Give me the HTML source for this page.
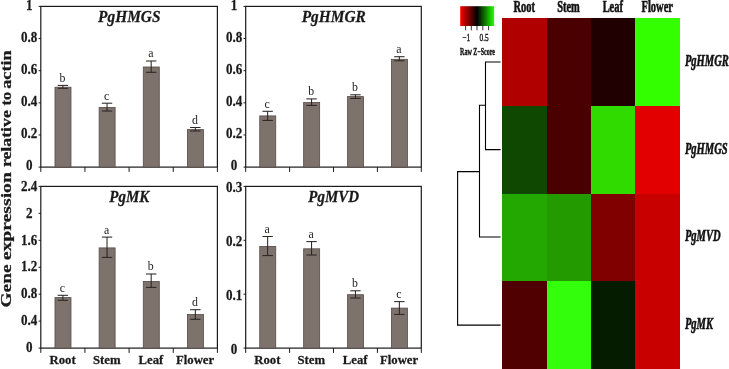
<!DOCTYPE html>
<html><head><meta charset="utf-8"><title>Gene expression</title>
<style>html,body{margin:0;padding:0;background:#fff;overflow:hidden;}svg{display:block;filter:blur(0.35px);}text{font-family:"Liberation Serif",serif;}</style></head>
<body>
<svg width="729" height="369" viewBox="0 0 729 369" font-family="'Liberation Serif', serif">
<rect width="729" height="369" fill="#fff"/>
<g stroke="#1a1a1a" stroke-width="1.2" fill="none">
<rect x="40.8" y="6.4" width="176.60000000000002" height="160.7"/>
</g>
<rect x="54.98" y="87.20" width="16.0" height="79.90" fill="#7e726d" stroke="#554b47" stroke-width="0.8"/>
<g stroke="#2b2523" stroke-width="1.05" fill="none">
<line x1="62.88" y1="85.40" x2="62.88" y2="88.30"/>
<line x1="57.67" y1="85.40" x2="68.08" y2="85.40"/>
<line x1="57.67" y1="88.30" x2="68.08" y2="88.30"/>
</g>
<text transform="translate(62.48,81.80) scale(0.95,1)" font-size="12.5" text-anchor="middle" fill="#222">b</text>
<rect x="99.12" y="107.40" width="16.0" height="59.70" fill="#7e726d" stroke="#554b47" stroke-width="0.8"/>
<g stroke="#2b2523" stroke-width="1.05" fill="none">
<line x1="107.03" y1="103.20" x2="107.03" y2="111.00"/>
<line x1="101.83" y1="103.20" x2="112.23" y2="103.20"/>
<line x1="101.83" y1="111.00" x2="112.23" y2="111.00"/>
</g>
<text transform="translate(106.62,99.60) scale(0.95,1)" font-size="12.5" text-anchor="middle" fill="#222">c</text>
<rect x="143.28" y="67.00" width="16.0" height="100.10" fill="#7e726d" stroke="#554b47" stroke-width="0.8"/>
<g stroke="#2b2523" stroke-width="1.05" fill="none">
<line x1="151.18" y1="61.00" x2="151.18" y2="72.30"/>
<line x1="145.98" y1="61.00" x2="156.38" y2="61.00"/>
<line x1="145.98" y1="72.30" x2="156.38" y2="72.30"/>
</g>
<text transform="translate(150.78,57.40) scale(0.95,1)" font-size="12.5" text-anchor="middle" fill="#222">a</text>
<rect x="187.43" y="129.60" width="16.0" height="37.50" fill="#7e726d" stroke="#554b47" stroke-width="0.8"/>
<g stroke="#2b2523" stroke-width="1.05" fill="none">
<line x1="195.33" y1="127.50" x2="195.33" y2="131.00"/>
<line x1="190.13" y1="127.50" x2="200.53" y2="127.50"/>
<line x1="190.13" y1="131.00" x2="200.53" y2="131.00"/>
</g>
<text transform="translate(194.93,123.90) scale(0.95,1)" font-size="12.5" text-anchor="middle" fill="#222">d</text>
<g stroke="#1a1a1a" stroke-width="1" fill="none">
<line x1="38.599999999999994" y1="6.4" x2="40.8" y2="6.4"/>
<line x1="38.599999999999994" y1="38.54" x2="40.8" y2="38.54"/>
<line x1="38.599999999999994" y1="70.68" x2="40.8" y2="70.68"/>
<line x1="38.599999999999994" y1="102.82000000000001" x2="40.8" y2="102.82000000000001"/>
<line x1="38.599999999999994" y1="134.96" x2="40.8" y2="134.96"/>
<line x1="38.599999999999994" y1="167.1" x2="40.8" y2="167.1"/>
<line x1="40.80" y1="167.1" x2="40.80" y2="171.9"/>
<line x1="84.95" y1="167.1" x2="84.95" y2="171.9"/>
<line x1="129.10" y1="167.1" x2="129.10" y2="171.9"/>
<line x1="173.25" y1="167.1" x2="173.25" y2="171.9"/>
<line x1="217.40" y1="167.1" x2="217.40" y2="171.9"/>
</g>
<text transform="translate(29.20,9.50) scale(0.9,1)" font-size="14.5" font-weight="bold" stroke="#1a1a1a" stroke-width="0.25" vector-effect="non-scaling-stroke" text-anchor="middle" fill="#1a1a1a">1</text>
<text transform="translate(29.20,41.64) scale(0.9,1)" font-size="14.5" font-weight="bold" stroke="#1a1a1a" stroke-width="0.25" vector-effect="non-scaling-stroke" text-anchor="middle" fill="#1a1a1a">0.8</text>
<text transform="translate(29.20,73.78) scale(0.9,1)" font-size="14.5" font-weight="bold" stroke="#1a1a1a" stroke-width="0.25" vector-effect="non-scaling-stroke" text-anchor="middle" fill="#1a1a1a">0.6</text>
<text transform="translate(29.20,105.92) scale(0.9,1)" font-size="14.5" font-weight="bold" stroke="#1a1a1a" stroke-width="0.25" vector-effect="non-scaling-stroke" text-anchor="middle" fill="#1a1a1a">0.4</text>
<text transform="translate(29.20,138.06) scale(0.9,1)" font-size="14.5" font-weight="bold" stroke="#1a1a1a" stroke-width="0.25" vector-effect="non-scaling-stroke" text-anchor="middle" fill="#1a1a1a">0.2</text>
<text transform="translate(29.20,170.20) scale(0.9,1)" font-size="14.5" font-weight="bold" stroke="#1a1a1a" stroke-width="0.25" vector-effect="non-scaling-stroke" text-anchor="middle" fill="#1a1a1a">0</text>
<text transform="translate(129.30,21.60) scale(0.88,1)" font-size="17.5" font-weight="bold" stroke="#1a1a1a" stroke-width="0.25" vector-effect="non-scaling-stroke" font-style="italic" text-anchor="middle" fill="#1a1a1a">PgHMGS</text>
<g stroke="#1a1a1a" stroke-width="1.2" fill="none">
<rect x="245.7" y="6.4" width="175.60000000000002" height="160.7"/>
</g>
<rect x="259.75" y="115.90" width="16.0" height="51.20" fill="#7e726d" stroke="#554b47" stroke-width="0.8"/>
<g stroke="#2b2523" stroke-width="1.05" fill="none">
<line x1="267.65" y1="111.30" x2="267.65" y2="120.40"/>
<line x1="262.45" y1="111.30" x2="272.85" y2="111.30"/>
<line x1="262.45" y1="120.40" x2="272.85" y2="120.40"/>
</g>
<text transform="translate(267.25,107.70) scale(0.95,1)" font-size="12.5" text-anchor="middle" fill="#222">c</text>
<rect x="303.65" y="102.50" width="16.0" height="64.60" fill="#7e726d" stroke="#554b47" stroke-width="0.8"/>
<g stroke="#2b2523" stroke-width="1.05" fill="none">
<line x1="311.55" y1="98.90" x2="311.55" y2="105.40"/>
<line x1="306.35" y1="98.90" x2="316.75" y2="98.90"/>
<line x1="306.35" y1="105.40" x2="316.75" y2="105.40"/>
</g>
<text transform="translate(311.15,95.30) scale(0.95,1)" font-size="12.5" text-anchor="middle" fill="#222">b</text>
<rect x="347.55" y="96.60" width="16.0" height="70.50" fill="#7e726d" stroke="#554b47" stroke-width="0.8"/>
<g stroke="#2b2523" stroke-width="1.05" fill="none">
<line x1="355.45" y1="94.80" x2="355.45" y2="98.40"/>
<line x1="350.25" y1="94.80" x2="360.65" y2="94.80"/>
<line x1="350.25" y1="98.40" x2="360.65" y2="98.40"/>
</g>
<text transform="translate(355.05,91.20) scale(0.95,1)" font-size="12.5" text-anchor="middle" fill="#222">b</text>
<rect x="391.45" y="59.30" width="16.0" height="107.80" fill="#7e726d" stroke="#554b47" stroke-width="0.8"/>
<g stroke="#2b2523" stroke-width="1.05" fill="none">
<line x1="399.35" y1="56.70" x2="399.35" y2="60.80"/>
<line x1="394.15" y1="56.70" x2="404.55" y2="56.70"/>
<line x1="394.15" y1="60.80" x2="404.55" y2="60.80"/>
</g>
<text transform="translate(398.95,53.10) scale(0.95,1)" font-size="12.5" text-anchor="middle" fill="#222">a</text>
<g stroke="#1a1a1a" stroke-width="1" fill="none">
<line x1="243.5" y1="6.4" x2="245.7" y2="6.4"/>
<line x1="243.5" y1="38.54" x2="245.7" y2="38.54"/>
<line x1="243.5" y1="70.68" x2="245.7" y2="70.68"/>
<line x1="243.5" y1="102.82000000000001" x2="245.7" y2="102.82000000000001"/>
<line x1="243.5" y1="134.96" x2="245.7" y2="134.96"/>
<line x1="243.5" y1="167.1" x2="245.7" y2="167.1"/>
<line x1="245.70" y1="167.1" x2="245.70" y2="171.9"/>
<line x1="289.60" y1="167.1" x2="289.60" y2="171.9"/>
<line x1="333.50" y1="167.1" x2="333.50" y2="171.9"/>
<line x1="377.40" y1="167.1" x2="377.40" y2="171.9"/>
<line x1="421.30" y1="167.1" x2="421.30" y2="171.9"/>
</g>
<text transform="translate(234.10,9.50) scale(0.9,1)" font-size="14.5" font-weight="bold" stroke="#1a1a1a" stroke-width="0.25" vector-effect="non-scaling-stroke" text-anchor="middle" fill="#1a1a1a">1</text>
<text transform="translate(234.10,41.64) scale(0.9,1)" font-size="14.5" font-weight="bold" stroke="#1a1a1a" stroke-width="0.25" vector-effect="non-scaling-stroke" text-anchor="middle" fill="#1a1a1a">0.8</text>
<text transform="translate(234.10,73.78) scale(0.9,1)" font-size="14.5" font-weight="bold" stroke="#1a1a1a" stroke-width="0.25" vector-effect="non-scaling-stroke" text-anchor="middle" fill="#1a1a1a">0.6</text>
<text transform="translate(234.10,105.92) scale(0.9,1)" font-size="14.5" font-weight="bold" stroke="#1a1a1a" stroke-width="0.25" vector-effect="non-scaling-stroke" text-anchor="middle" fill="#1a1a1a">0.4</text>
<text transform="translate(234.10,138.06) scale(0.9,1)" font-size="14.5" font-weight="bold" stroke="#1a1a1a" stroke-width="0.25" vector-effect="non-scaling-stroke" text-anchor="middle" fill="#1a1a1a">0.2</text>
<text transform="translate(234.10,170.20) scale(0.9,1)" font-size="14.5" font-weight="bold" stroke="#1a1a1a" stroke-width="0.25" vector-effect="non-scaling-stroke" text-anchor="middle" fill="#1a1a1a">0</text>
<text transform="translate(333.70,21.60) scale(0.88,1)" font-size="17.5" font-weight="bold" stroke="#1a1a1a" stroke-width="0.25" vector-effect="non-scaling-stroke" font-style="italic" text-anchor="middle" fill="#1a1a1a">PgHMGR</text>
<g stroke="#1a1a1a" stroke-width="1.2" fill="none">
<rect x="40.8" y="186.4" width="176.60000000000002" height="161.70000000000002"/>
</g>
<rect x="54.98" y="297.60" width="16.0" height="50.50" fill="#7e726d" stroke="#554b47" stroke-width="0.8"/>
<g stroke="#2b2523" stroke-width="1.05" fill="none">
<line x1="62.88" y1="295.30" x2="62.88" y2="300.30"/>
<line x1="57.67" y1="295.30" x2="68.08" y2="295.30"/>
<line x1="57.67" y1="300.30" x2="68.08" y2="300.30"/>
</g>
<text transform="translate(62.48,291.70) scale(0.95,1)" font-size="12.5" text-anchor="middle" fill="#222">c</text>
<rect x="99.12" y="247.90" width="16.0" height="100.20" fill="#7e726d" stroke="#554b47" stroke-width="0.8"/>
<g stroke="#2b2523" stroke-width="1.05" fill="none">
<line x1="107.03" y1="237.10" x2="107.03" y2="257.40"/>
<line x1="101.83" y1="237.10" x2="112.23" y2="237.10"/>
<line x1="101.83" y1="257.40" x2="112.23" y2="257.40"/>
</g>
<text transform="translate(106.62,233.50) scale(0.95,1)" font-size="12.5" text-anchor="middle" fill="#222">a</text>
<rect x="143.28" y="281.40" width="16.0" height="66.70" fill="#7e726d" stroke="#554b47" stroke-width="0.8"/>
<g stroke="#2b2523" stroke-width="1.05" fill="none">
<line x1="151.18" y1="274.00" x2="151.18" y2="287.40"/>
<line x1="145.98" y1="274.00" x2="156.38" y2="274.00"/>
<line x1="145.98" y1="287.40" x2="156.38" y2="287.40"/>
</g>
<text transform="translate(150.78,270.40) scale(0.95,1)" font-size="12.5" text-anchor="middle" fill="#222">b</text>
<rect x="187.43" y="314.50" width="16.0" height="33.60" fill="#7e726d" stroke="#554b47" stroke-width="0.8"/>
<g stroke="#2b2523" stroke-width="1.05" fill="none">
<line x1="195.33" y1="309.70" x2="195.33" y2="319.30"/>
<line x1="190.13" y1="309.70" x2="200.53" y2="309.70"/>
<line x1="190.13" y1="319.30" x2="200.53" y2="319.30"/>
</g>
<text transform="translate(194.93,306.10) scale(0.95,1)" font-size="12.5" text-anchor="middle" fill="#222">d</text>
<g stroke="#1a1a1a" stroke-width="1" fill="none">
<line x1="38.599999999999994" y1="186.4" x2="40.8" y2="186.4"/>
<line x1="38.599999999999994" y1="213.35" x2="40.8" y2="213.35"/>
<line x1="38.599999999999994" y1="240.3" x2="40.8" y2="240.3"/>
<line x1="38.599999999999994" y1="267.25" x2="40.8" y2="267.25"/>
<line x1="38.599999999999994" y1="294.2" x2="40.8" y2="294.2"/>
<line x1="38.599999999999994" y1="321.15" x2="40.8" y2="321.15"/>
<line x1="38.599999999999994" y1="348.1" x2="40.8" y2="348.1"/>
<line x1="40.80" y1="348.1" x2="40.80" y2="352.90000000000003"/>
<line x1="84.95" y1="348.1" x2="84.95" y2="352.90000000000003"/>
<line x1="129.10" y1="348.1" x2="129.10" y2="352.90000000000003"/>
<line x1="173.25" y1="348.1" x2="173.25" y2="352.90000000000003"/>
<line x1="217.40" y1="348.1" x2="217.40" y2="352.90000000000003"/>
</g>
<text transform="translate(29.20,190.60) scale(0.9,1)" font-size="14.5" font-weight="bold" stroke="#1a1a1a" stroke-width="0.25" vector-effect="non-scaling-stroke" text-anchor="middle" fill="#1a1a1a">2.4</text>
<text transform="translate(29.20,217.55) scale(0.9,1)" font-size="14.5" font-weight="bold" stroke="#1a1a1a" stroke-width="0.25" vector-effect="non-scaling-stroke" text-anchor="middle" fill="#1a1a1a">2</text>
<text transform="translate(29.20,244.50) scale(0.9,1)" font-size="14.5" font-weight="bold" stroke="#1a1a1a" stroke-width="0.25" vector-effect="non-scaling-stroke" text-anchor="middle" fill="#1a1a1a">1.6</text>
<text transform="translate(29.20,271.45) scale(0.9,1)" font-size="14.5" font-weight="bold" stroke="#1a1a1a" stroke-width="0.25" vector-effect="non-scaling-stroke" text-anchor="middle" fill="#1a1a1a">1.2</text>
<text transform="translate(29.20,298.40) scale(0.9,1)" font-size="14.5" font-weight="bold" stroke="#1a1a1a" stroke-width="0.25" vector-effect="non-scaling-stroke" text-anchor="middle" fill="#1a1a1a">0.8</text>
<text transform="translate(29.20,325.35) scale(0.9,1)" font-size="14.5" font-weight="bold" stroke="#1a1a1a" stroke-width="0.25" vector-effect="non-scaling-stroke" text-anchor="middle" fill="#1a1a1a">0.4</text>
<text transform="translate(29.20,352.30) scale(0.9,1)" font-size="14.5" font-weight="bold" stroke="#1a1a1a" stroke-width="0.25" vector-effect="non-scaling-stroke" text-anchor="middle" fill="#1a1a1a">0</text>
<text transform="translate(129.30,201.60) scale(0.88,1)" font-size="17.0" font-weight="bold" stroke="#1a1a1a" stroke-width="0.25" vector-effect="non-scaling-stroke" font-style="italic" text-anchor="middle" fill="#1a1a1a">PgMK</text>
<text transform="translate(62.58,364.10) scale(0.965,1)" font-size="13.2" font-weight="bold" stroke="#1a1a1a" stroke-width="0.25" vector-effect="non-scaling-stroke" text-anchor="middle" fill="#1a1a1a">Root</text>
<text transform="translate(106.73,364.10) scale(0.965,1)" font-size="13.2" font-weight="bold" stroke="#1a1a1a" stroke-width="0.25" vector-effect="non-scaling-stroke" text-anchor="middle" fill="#1a1a1a">Stem</text>
<text transform="translate(150.88,364.10) scale(0.965,1)" font-size="13.2" font-weight="bold" stroke="#1a1a1a" stroke-width="0.25" vector-effect="non-scaling-stroke" text-anchor="middle" fill="#1a1a1a">Leaf</text>
<text transform="translate(195.03,364.10) scale(0.965,1)" font-size="13.2" font-weight="bold" stroke="#1a1a1a" stroke-width="0.25" vector-effect="non-scaling-stroke" text-anchor="middle" fill="#1a1a1a">Flower</text>
<g stroke="#1a1a1a" stroke-width="1.2" fill="none">
<rect x="245.7" y="186.4" width="175.60000000000002" height="161.70000000000002"/>
</g>
<rect x="259.75" y="246.40" width="16.0" height="101.70" fill="#7e726d" stroke="#554b47" stroke-width="0.8"/>
<g stroke="#2b2523" stroke-width="1.05" fill="none">
<line x1="267.65" y1="236.50" x2="267.65" y2="255.60"/>
<line x1="262.45" y1="236.50" x2="272.85" y2="236.50"/>
<line x1="262.45" y1="255.60" x2="272.85" y2="255.60"/>
</g>
<text transform="translate(267.25,232.90) scale(0.95,1)" font-size="12.5" text-anchor="middle" fill="#222">a</text>
<rect x="303.65" y="248.80" width="16.0" height="99.30" fill="#7e726d" stroke="#554b47" stroke-width="0.8"/>
<g stroke="#2b2523" stroke-width="1.05" fill="none">
<line x1="311.55" y1="241.60" x2="311.55" y2="255.00"/>
<line x1="306.35" y1="241.60" x2="316.75" y2="241.60"/>
<line x1="306.35" y1="255.00" x2="316.75" y2="255.00"/>
</g>
<text transform="translate(311.15,238.00) scale(0.95,1)" font-size="12.5" text-anchor="middle" fill="#222">a</text>
<rect x="347.55" y="294.70" width="16.0" height="53.40" fill="#7e726d" stroke="#554b47" stroke-width="0.8"/>
<g stroke="#2b2523" stroke-width="1.05" fill="none">
<line x1="355.45" y1="290.80" x2="355.45" y2="298.00"/>
<line x1="350.25" y1="290.80" x2="360.65" y2="290.80"/>
<line x1="350.25" y1="298.00" x2="360.65" y2="298.00"/>
</g>
<text transform="translate(355.05,287.20) scale(0.95,1)" font-size="12.5" text-anchor="middle" fill="#222">b</text>
<rect x="391.45" y="308.10" width="16.0" height="40.00" fill="#7e726d" stroke="#554b47" stroke-width="0.8"/>
<g stroke="#2b2523" stroke-width="1.05" fill="none">
<line x1="399.35" y1="301.60" x2="399.35" y2="314.40"/>
<line x1="394.15" y1="301.60" x2="404.55" y2="301.60"/>
<line x1="394.15" y1="314.40" x2="404.55" y2="314.40"/>
</g>
<text transform="translate(398.95,298.00) scale(0.95,1)" font-size="12.5" text-anchor="middle" fill="#222">c</text>
<g stroke="#1a1a1a" stroke-width="1" fill="none">
<line x1="243.5" y1="186.4" x2="245.7" y2="186.4"/>
<line x1="243.5" y1="240.3" x2="245.7" y2="240.3"/>
<line x1="243.5" y1="294.2" x2="245.7" y2="294.2"/>
<line x1="243.5" y1="348.1" x2="245.7" y2="348.1"/>
<line x1="245.70" y1="348.1" x2="245.70" y2="352.90000000000003"/>
<line x1="289.60" y1="348.1" x2="289.60" y2="352.90000000000003"/>
<line x1="333.50" y1="348.1" x2="333.50" y2="352.90000000000003"/>
<line x1="377.40" y1="348.1" x2="377.40" y2="352.90000000000003"/>
<line x1="421.30" y1="348.1" x2="421.30" y2="352.90000000000003"/>
</g>
<text transform="translate(234.10,192.10) scale(0.9,1)" font-size="14.5" font-weight="bold" stroke="#1a1a1a" stroke-width="0.25" vector-effect="non-scaling-stroke" text-anchor="middle" fill="#1a1a1a">0.3</text>
<text transform="translate(234.10,246.00) scale(0.9,1)" font-size="14.5" font-weight="bold" stroke="#1a1a1a" stroke-width="0.25" vector-effect="non-scaling-stroke" text-anchor="middle" fill="#1a1a1a">0.2</text>
<text transform="translate(234.10,299.90) scale(0.9,1)" font-size="14.5" font-weight="bold" stroke="#1a1a1a" stroke-width="0.25" vector-effect="non-scaling-stroke" text-anchor="middle" fill="#1a1a1a">0.1</text>
<text transform="translate(234.10,353.80) scale(0.9,1)" font-size="14.5" font-weight="bold" stroke="#1a1a1a" stroke-width="0.25" vector-effect="non-scaling-stroke" text-anchor="middle" fill="#1a1a1a">0</text>
<text transform="translate(333.70,201.60) scale(0.88,1)" font-size="17.0" font-weight="bold" stroke="#1a1a1a" stroke-width="0.25" vector-effect="non-scaling-stroke" font-style="italic" text-anchor="middle" fill="#1a1a1a">PgMVD</text>
<text transform="translate(267.35,364.10) scale(0.965,1)" font-size="13.2" font-weight="bold" stroke="#1a1a1a" stroke-width="0.25" vector-effect="non-scaling-stroke" text-anchor="middle" fill="#1a1a1a">Root</text>
<text transform="translate(311.25,364.10) scale(0.965,1)" font-size="13.2" font-weight="bold" stroke="#1a1a1a" stroke-width="0.25" vector-effect="non-scaling-stroke" text-anchor="middle" fill="#1a1a1a">Stem</text>
<text transform="translate(355.15,364.10) scale(0.965,1)" font-size="13.2" font-weight="bold" stroke="#1a1a1a" stroke-width="0.25" vector-effect="non-scaling-stroke" text-anchor="middle" fill="#1a1a1a">Leaf</text>
<text transform="translate(399.05,364.10) scale(0.965,1)" font-size="13.2" font-weight="bold" stroke="#1a1a1a" stroke-width="0.25" vector-effect="non-scaling-stroke" text-anchor="middle" fill="#1a1a1a">Flower</text>
<text transform="translate(11.1,307.50) rotate(-90)" font-size="14.6" font-weight="bold" text-anchor="start" textLength="43.20" lengthAdjust="spacingAndGlyphs" fill="#1a1a1a" stroke="#1a1a1a" stroke-width="0.25">Gene</text>
<text transform="translate(11.1,260.30) rotate(-90)" font-size="14.6" font-weight="bold" text-anchor="start" textLength="88.20" lengthAdjust="spacingAndGlyphs" fill="#1a1a1a" stroke="#1a1a1a" stroke-width="0.25">expression</text>
<text transform="translate(11.1,167.10) rotate(-90)" font-size="14.6" font-weight="bold" text-anchor="start" textLength="56.90" lengthAdjust="spacingAndGlyphs" fill="#1a1a1a" stroke="#1a1a1a" stroke-width="0.25">relative</text>
<text transform="translate(11.1,105.40) rotate(-90)" font-size="14.6" font-weight="bold" text-anchor="start" textLength="13.50" lengthAdjust="spacingAndGlyphs" fill="#1a1a1a" stroke="#1a1a1a" stroke-width="0.25">to</text>
<text transform="translate(11.1,88.70) rotate(-90)" font-size="14.6" font-weight="bold" text-anchor="start" textLength="38.30" lengthAdjust="spacingAndGlyphs" fill="#1a1a1a" stroke="#1a1a1a" stroke-width="0.25">actin</text>
<g shape-rendering="crispEdges">
<rect x="502.2" y="18.1" width="44.80" height="88.00" fill="#b00000"/>
<rect x="546.7" y="18.1" width="44.50" height="88.00" fill="#4a0000"/>
<rect x="590.9" y="18.1" width="44.70" height="88.00" fill="#200000"/>
<rect x="635.3" y="18.1" width="44.80" height="88.00" fill="#33ff00"/>
<rect x="502.2" y="105.8" width="44.80" height="88.00" fill="#0f4800"/>
<rect x="546.7" y="105.8" width="44.50" height="88.00" fill="#4a0000"/>
<rect x="590.9" y="105.8" width="44.70" height="88.00" fill="#30dc00"/>
<rect x="635.3" y="105.8" width="44.80" height="88.00" fill="#e20000"/>
<rect x="502.2" y="193.5" width="44.80" height="88.00" fill="#22a800"/>
<rect x="546.7" y="193.5" width="44.50" height="88.00" fill="#229a00"/>
<rect x="590.9" y="193.5" width="44.70" height="88.00" fill="#800000"/>
<rect x="635.3" y="193.5" width="44.80" height="88.00" fill="#c80000"/>
<rect x="502.2" y="281.2" width="44.80" height="88.10" fill="#500000"/>
<rect x="546.7" y="281.2" width="44.50" height="88.10" fill="#33ff0c"/>
<rect x="590.9" y="281.2" width="44.70" height="88.10" fill="#051c00"/>
<rect x="635.3" y="281.2" width="44.80" height="88.10" fill="#c80000"/>
</g>
<text transform="translate(524.15,12.20) scale(0.626,1)" font-size="16.7" font-weight="bold" stroke="#111" stroke-width="0.5" vector-effect="non-scaling-stroke" text-anchor="middle" fill="#111">Root</text>
<text transform="translate(568.50,12.20) scale(0.626,1)" font-size="16.7" font-weight="bold" stroke="#111" stroke-width="0.5" vector-effect="non-scaling-stroke" text-anchor="middle" fill="#111">Stem</text>
<text transform="translate(612.80,12.20) scale(0.626,1)" font-size="16.7" font-weight="bold" stroke="#111" stroke-width="0.5" vector-effect="non-scaling-stroke" text-anchor="middle" fill="#111">Leaf</text>
<text transform="translate(657.25,12.20) scale(0.626,1)" font-size="16.7" font-weight="bold" stroke="#111" stroke-width="0.5" vector-effect="non-scaling-stroke" text-anchor="middle" fill="#111">Flower</text>
<text transform="translate(684.90,65.85) scale(0.605,1)" font-size="17.4" font-weight="bold" stroke="#111" stroke-width="0.5" vector-effect="non-scaling-stroke" font-style="italic" text-anchor="start" fill="#111">PgHMGR</text>
<text transform="translate(684.90,153.55) scale(0.605,1)" font-size="17.4" font-weight="bold" stroke="#111" stroke-width="0.5" vector-effect="non-scaling-stroke" font-style="italic" text-anchor="start" fill="#111">PgHMGS</text>
<text transform="translate(684.90,241.25) scale(0.605,1)" font-size="17.4" font-weight="bold" stroke="#111" stroke-width="0.5" vector-effect="non-scaling-stroke" font-style="italic" text-anchor="start" fill="#111">PgMVD</text>
<text transform="translate(684.90,329.00) scale(0.605,1)" font-size="17.4" font-weight="bold" stroke="#111" stroke-width="0.5" vector-effect="non-scaling-stroke" font-style="italic" text-anchor="start" fill="#111">PgMK</text>
<g stroke="#000" stroke-width="1.1" fill="none">
<path d="M500.6 62 H485.5 V149.6 H500.6"/>
<path d="M485.5 105.2 H479.5 V237 H500.6"/>
<path d="M479.5 171.6 H457.6 V325.1 H500.6"/>
</g>
<defs><linearGradient id="ck" x1="0" x2="1" y1="0" y2="0"><stop offset="0" stop-color="#ff0000"/><stop offset="0.5" stop-color="#000000"/><stop offset="1" stop-color="#22ff00"/></linearGradient></defs>
<rect x="460.2" y="6.2" width="33.9" height="19.8" fill="url(#ck)"/>
<g stroke="#000" stroke-width="0.8">
<line x1="465.6" y1="26" x2="465.6" y2="30.3"/>
<line x1="471.3" y1="26" x2="471.3" y2="30.3"/>
<line x1="477.0" y1="26" x2="477.0" y2="30.3"/>
<line x1="482.8" y1="26" x2="482.8" y2="30.3"/>
<line x1="488.6" y1="26" x2="488.6" y2="30.3"/>
</g>
<text transform="translate(466.20,40.70) scale(0.68,1)" font-size="10.8" stroke="#111" stroke-width="0.3" vector-effect="non-scaling-stroke" text-anchor="middle" fill="#111">&#8722;1</text>
<text transform="translate(484.20,40.70) scale(0.68,1)" font-size="10.8" stroke="#111" stroke-width="0.3" vector-effect="non-scaling-stroke" text-anchor="middle" fill="#111">0.5</text>
<text transform="translate(477.50,54.60) scale(0.64,1)" font-size="9.4" font-weight="bold" stroke="#111" stroke-width="0.3" vector-effect="non-scaling-stroke" text-anchor="middle" fill="#111">Raw Z&#8722;Score</text>
</svg>
</body></html>
